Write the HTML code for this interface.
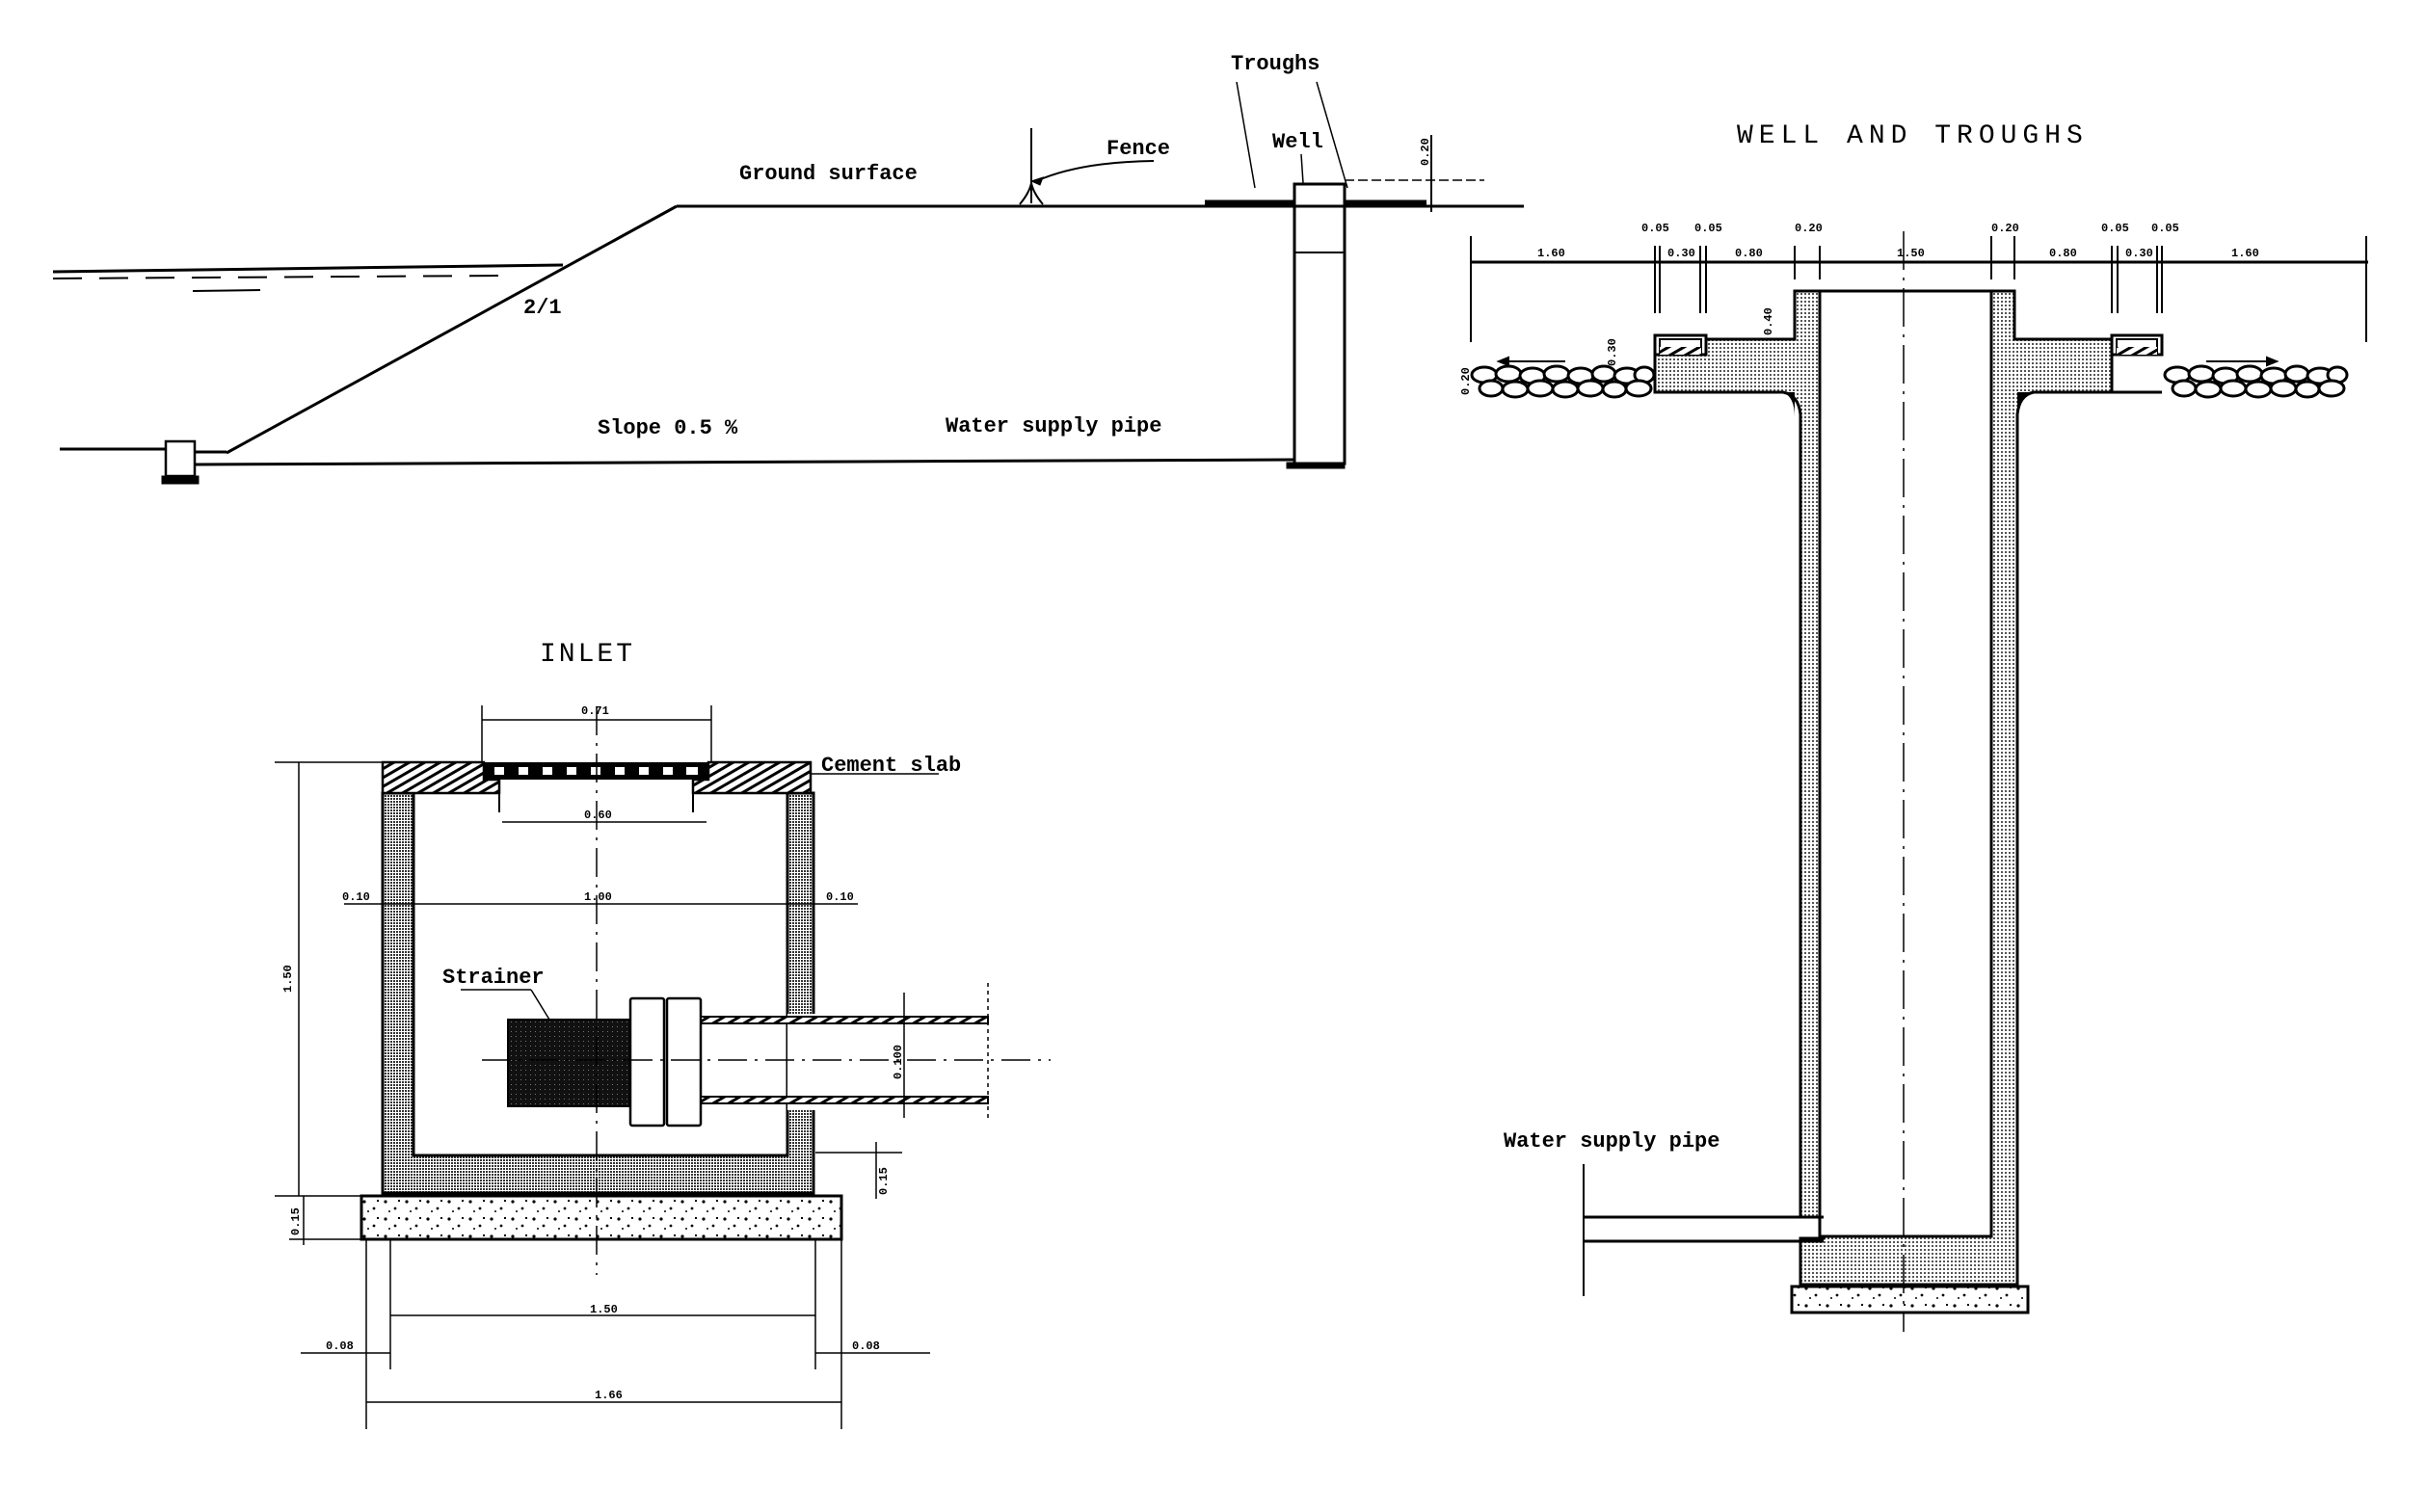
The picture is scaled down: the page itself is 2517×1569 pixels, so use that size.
<!DOCTYPE html>
<html><head><meta charset="utf-8">
<style>
html,body{margin:0;padding:0;background:#fff;}
svg{display:block;}
text{font-family:"Liberation Mono",monospace;fill:#000;}
.lbl{font-size:22px;font-weight:bold;}
.dim{font-size:12px;font-weight:bold;}
</style></head>
<body>
<svg width="2517" height="1569" viewBox="0 0 2517 1569" xmlns="http://www.w3.org/2000/svg">
<defs>
<pattern id="dots" width="4" height="4" patternUnits="userSpaceOnUse"><rect width="4" height="4" fill="#fff"/><rect width="2" height="2" fill="#555"/></pattern>
<pattern id="dense" width="3" height="3" patternUnits="userSpaceOnUse"><rect width="3" height="3" fill="#fff"/><rect width="2" height="2" fill="#333"/></pattern>
<pattern id="hatch" width="8" height="8" patternUnits="userSpaceOnUse" patternTransform="rotate(60)"><rect width="8" height="8" fill="#fff"/><rect width="3" height="8" fill="#000"/></pattern>
<pattern id="conc" width="22" height="18" patternUnits="userSpaceOnUse"><rect width="22" height="18" fill="#fff"/><circle cx="4" cy="5" r="1.6" fill="#000"/><circle cx="14" cy="12" r="1.4" fill="#000"/><rect x="17" y="3" width="2" height="2" fill="#000"/><circle cx="8" cy="15" r="1" fill="#000"/></pattern>
<pattern id="strain" width="5" height="5" patternUnits="userSpaceOnUse"><rect width="5" height="5" fill="#111"/><rect width="1" height="1" fill="#777"/></pattern>
</defs>

<!-- ===== TOP SECTION ===== -->
<g stroke="#000" fill="none" stroke-width="3">
<line x1="702" y1="214" x2="1581" y2="214"/>
<line x1="702" y1="214" x2="235" y2="470"/>
<line x1="62" y1="466" x2="172" y2="466"/>
<line x1="203" y1="469" x2="235" y2="469"/>
<line x1="203" y1="482" x2="1343" y2="477"/>
<rect x="172" y="458" width="30" height="36" stroke-width="2.5"/>
<rect x="168" y="494" width="38" height="8" fill="#000" stroke-width="1"/>
<rect x="1335" y="480" width="60" height="6" fill="#000" stroke-width="1"/>
<rect x="1343" y="191" width="52" height="290" stroke-width="3"/>
<line x1="1343" y1="262" x2="1395" y2="262" stroke-width="2"/>
<line x1="1250" y1="210" x2="1343" y2="210" stroke-width="5"/>
<line x1="1395" y1="210" x2="1480" y2="210" stroke-width="5"/>
<line x1="1485" y1="140" x2="1485" y2="220" stroke-width="2"/>
<line x1="1395" y1="187" x2="1540" y2="187" stroke-width="1.5" stroke-dasharray="10,4"/>
<line x1="55" y1="282" x2="584" y2="275" stroke-width="3"/>
<line x1="55" y1="289" x2="520" y2="286" stroke-width="2" stroke-dasharray="30,18"/>
<line x1="200" y1="302" x2="270" y2="301" stroke-width="2"/>
<line x1="1070" y1="133" x2="1070" y2="211" stroke-width="2"/>
<path d="M1058 212 Q1068 200 1070 190 Q1072 200 1082 212" stroke-width="2"/>
<path d="M1197 167 Q1120 168 1075 188" stroke-width="2"/>
<path d="M1070 188 l12 -4 l-3 8 z" fill="#000" stroke-width="1"/>
<line x1="1283" y1="85" x2="1302" y2="195" stroke-width="1.5"/>
<line x1="1366" y1="85" x2="1398" y2="195" stroke-width="1.5"/>
<line x1="1350" y1="160" x2="1352" y2="190" stroke-width="1.5"/>
</g>
<text class="lbl" x="767" y="186">Ground surface</text>
<text class="lbl" x="1148" y="160">Fence</text>
<text class="lbl" x="1277" y="72">Troughs</text>
<text class="lbl" x="1320" y="153">Well</text>
<text class="lbl" x="543" y="325">2/1</text>
<text class="lbl" x="620" y="450">Slope 0.5 %</text>
<text class="lbl" x="981" y="448">Water supply pipe</text>
<text class="dim" transform="translate(1482,172) rotate(-90)">0.20</text>

<!-- ===== WELL AND TROUGHS ===== -->
<text x="1802" y="148" style="font-size:28px;letter-spacing:6px;">WELL AND TROUGHS</text>
<g stroke="#000" fill="none" stroke-width="2">
<line x1="1526" y1="272" x2="2457" y2="272" stroke-width="3"/>
<line x1="1526" y1="245" x2="1526" y2="355"/>
<line x1="2455" y1="245" x2="2455" y2="355"/>
<line x1="1717" y1="255" x2="1717" y2="325"/><line x1="1722" y1="255" x2="1722" y2="325"/>
<line x1="1764" y1="255" x2="1764" y2="325"/><line x1="1770" y1="255" x2="1770" y2="325"/>
<line x1="1862" y1="255" x2="1862" y2="290"/><line x1="1888" y1="255" x2="1888" y2="290"/>
<line x1="2066" y1="245" x2="2066" y2="290"/><line x1="2090" y1="245" x2="2090" y2="290"/>
<line x1="2191" y1="255" x2="2191" y2="325"/><line x1="2197" y1="255" x2="2197" y2="325"/>
<line x1="2238" y1="255" x2="2238" y2="325"/><line x1="2243" y1="255" x2="2243" y2="325"/>
</g>
<path d="M1862 302 H2090 V352 H2191 V407 H2243 V407 L2243 407 H2110 Q2095 410 2093 430 V1333 H1868 V1285 H1892 V1263 H1868 V430 Q1866 410 1850 407 H1717 V368 H1770 V352 H1862 Z" fill="url(#dots)" stroke="#000" stroke-width="3"/>
<rect x="1717" y="348" width="53" height="20" fill="none" stroke="#000" stroke-width="3"/>
<rect x="1722" y="352" width="43" height="14" fill="#fff" stroke="#000" stroke-width="2"/>
<rect x="1722" y="360" width="43" height="8" fill="url(#hatch)"/>
<rect x="2191" y="348" width="52" height="20" fill="none" stroke="#000" stroke-width="3"/>
<rect x="2196" y="352" width="42" height="14" fill="#fff" stroke="#000" stroke-width="2"/>
<rect x="2196" y="360" width="42" height="8" fill="url(#hatch)"/>
<rect x="1888" y="302" width="178" height="981" fill="#fff" stroke="#000" stroke-width="3"/>
<rect x="1859" y="1335" width="245" height="27" fill="url(#conc)" stroke="#000" stroke-width="3"/>
<path d="M1850 407 Q1862 412 1862 433 L1862 407 Z" fill="#000"/>
<path d="M2110 407 Q2093 412 2093 433 L2093 407 Z" fill="#000"/>
<line x1="1975" y1="240" x2="1975" y2="1382" stroke="#000" stroke-width="1.5" stroke-dasharray="40,8,3,8"/>
<g stroke="#000" stroke-width="3" fill="none">
<line x1="1643" y1="1263" x2="1892" y2="1263"/>
<line x1="1643" y1="1288" x2="1892" y2="1288"/>
<line x1="1643" y1="1208" x2="1643" y2="1345" stroke-width="2"/>
</g>
<text class="lbl" x="1560" y="1190">Water supply pipe</text>
<!-- stones -->
<g stroke="#000" stroke-width="3" fill="#fff">
<g id="st">
<ellipse cx="1540" cy="389" rx="13" ry="8"/><ellipse cx="1565" cy="388" rx="13" ry="8"/><ellipse cx="1590" cy="390" rx="13" ry="8"/><ellipse cx="1615" cy="388" rx="13" ry="8"/><ellipse cx="1640" cy="390" rx="13" ry="8"/><ellipse cx="1664" cy="388" rx="12" ry="8"/><ellipse cx="1688" cy="390" rx="13" ry="8"/><ellipse cx="1706" cy="389" rx="10" ry="8"/>
<ellipse cx="1547" cy="403" rx="12" ry="8"/><ellipse cx="1572" cy="404" rx="13" ry="8"/><ellipse cx="1598" cy="403" rx="13" ry="8"/><ellipse cx="1624" cy="404" rx="13" ry="8"/><ellipse cx="1650" cy="403" rx="13" ry="8"/><ellipse cx="1675" cy="404" rx="12" ry="8"/><ellipse cx="1700" cy="403" rx="13" ry="8"/>
</g>
<use href="#st" transform="translate(719,0)"/>
</g>
<g stroke="#000" stroke-width="2">
<line x1="1560" y1="375" x2="1624" y2="375"/><path d="M1555 375 l10 -4 v8z" fill="#000"/>
<line x1="2289" y1="375" x2="2355" y2="375"/><path d="M2362 375 l-10 -4 v8z" fill="#000"/>
</g>
<g>
<text class="dim" x="1595" y="266">1.60</text>
<text class="dim" x="1703" y="240">0.05</text>
<text class="dim" x="1730" y="266">0.30</text>
<text class="dim" x="1758" y="240">0.05</text>
<text class="dim" x="1800" y="266">0.80</text>
<text class="dim" x="1862" y="240">0.20</text>
<text class="dim" x="1968" y="266">1.50</text>
<text class="dim" x="2066" y="240">0.20</text>
<text class="dim" x="2126" y="266">0.80</text>
<text class="dim" x="2180" y="240">0.05</text>
<text class="dim" x="2205" y="266">0.30</text>
<text class="dim" x="2232" y="240">0.05</text>
<text class="dim" x="2315" y="266">1.60</text>
<text class="dim" transform="translate(1838,348) rotate(-90)">0.40</text>
<text class="dim" transform="translate(1676,380) rotate(-90)">0.30</text>
<text class="dim" transform="translate(1524,410) rotate(-90)">0.20</text>
</g>

<!-- ===== INLET ===== -->
<text x="560" y="686" style="font-size:28px;letter-spacing:3px;">INLET</text>
<path d="M397 823 H429 V1199 H817 V823 H844 V1238 H397 Z" fill="url(#dense)" stroke="#000" stroke-width="3"/>
<rect x="375" y="1241" width="498" height="45" fill="url(#conc)" stroke="#000" stroke-width="3"/>
<path d="M397 791 H502 V809 H518 V823 H397 Z" fill="url(#hatch)" stroke="#000" stroke-width="2.5"/>
<path d="M735 791 H841 V823 H719 V809 H735 Z" fill="url(#hatch)" stroke="#000" stroke-width="2.5"/>
<rect x="502" y="791" width="233" height="18" fill="#000"/>
<g fill="#fff"><rect x="513" y="796" width="10" height="8"/><rect x="538" y="796" width="10" height="8"/><rect x="563" y="796" width="10" height="8"/><rect x="588" y="796" width="10" height="8"/><rect x="613" y="796" width="10" height="8"/><rect x="638" y="796" width="10" height="8"/><rect x="663" y="796" width="10" height="8"/><rect x="688" y="796" width="10" height="8"/><rect x="712" y="796" width="12" height="8"/></g>
<g stroke="#000" stroke-width="2"><line x1="518" y1="809" x2="518" y2="843"/><line x1="719" y1="809" x2="719" y2="843"/></g>
<rect x="527" y="1058" width="127" height="90" fill="url(#strain)" stroke="#000" stroke-width="2"/>
<rect x="654" y="1036" width="35" height="132" fill="#fff" stroke="#000" stroke-width="2.5" rx="2"/>
<rect x="692" y="1036" width="35" height="132" fill="#fff" stroke="#000" stroke-width="2.5" rx="2"/>
<rect x="817" y="1052" width="30" height="100" fill="#fff"/>
<rect x="727" y="1055" width="298" height="7" fill="url(#hatch)" stroke="#000" stroke-width="2"/>
<rect x="727" y="1138" width="298" height="7" fill="url(#hatch)" stroke="#000" stroke-width="2"/>
<g stroke="#000" stroke-width="1.5" fill="none">
<line x1="500" y1="1100" x2="1090" y2="1100" stroke-dasharray="30,8,3,8"/>
<line x1="619" y1="733" x2="619" y2="1323" stroke-dasharray="30,8,3,8"/>
<line x1="1025" y1="1020" x2="1025" y2="1160" stroke-dasharray="4,4"/>
<line x1="500" y1="747" x2="738" y2="747"/><line x1="500" y1="732" x2="500" y2="790"/><line x1="738" y1="732" x2="738" y2="790"/>
<line x1="521" y1="853" x2="733" y2="853"/>
<line x1="397" y1="938" x2="844" y2="938"/>
<line x1="357" y1="938" x2="397" y2="938"/><line x1="844" y1="938" x2="890" y2="938"/>
<line x1="285" y1="791" x2="397" y2="791"/><line x1="310" y1="791" x2="310" y2="1241"/>
<line x1="285" y1="1241" x2="375" y2="1241"/><line x1="300" y1="1286" x2="375" y2="1286"/><line x1="315" y1="1241" x2="315" y2="1292"/>
<line x1="841" y1="803" x2="974" y2="803"/>
<line x1="478" y1="1027" x2="551" y2="1027"/><line x1="551" y1="1027" x2="570" y2="1058"/>
<line x1="938" y1="1030" x2="938" y2="1160"/>
<line x1="846" y1="1196" x2="936" y2="1196"/><line x1="909" y1="1185" x2="909" y2="1244"/>
<line x1="380" y1="1286" x2="380" y2="1483"/><line x1="405" y1="1286" x2="405" y2="1421"/>
<line x1="846" y1="1286" x2="846" y2="1421"/><line x1="873" y1="1286" x2="873" y2="1483"/>
<line x1="405" y1="1365" x2="846" y2="1365"/>
<line x1="312" y1="1404" x2="405" y2="1404"/><line x1="846" y1="1404" x2="965" y2="1404"/>
<line x1="380" y1="1455" x2="873" y2="1455"/>
</g>
<text class="lbl" x="852" y="800">Cement slab</text>
<text class="lbl" x="459" y="1020">Strainer</text>
<g>
<text class="dim" x="603" y="741">0.71</text>
<text class="dim" x="606" y="849">0.60</text>
<text class="dim" x="606" y="934">1.00</text>
<text class="dim" x="355" y="934">0.10</text>
<text class="dim" x="857" y="934">0.10</text>
<text class="dim" x="612" y="1362">1.50</text>
<text class="dim" x="338" y="1400">0.08</text>
<text class="dim" x="884" y="1400">0.08</text>
<text class="dim" x="617" y="1451">1.66</text>
<text class="dim" transform="translate(302,1030) rotate(-90)">1.50</text>
<text class="dim" transform="translate(310,1282) rotate(-90)">0.15</text>
<text class="dim" transform="translate(920,1240) rotate(-90)">0.15</text>
<text class="dim" transform="translate(935,1120) rotate(-90)">0.100</text>
</g>
</svg>
</body></html>
